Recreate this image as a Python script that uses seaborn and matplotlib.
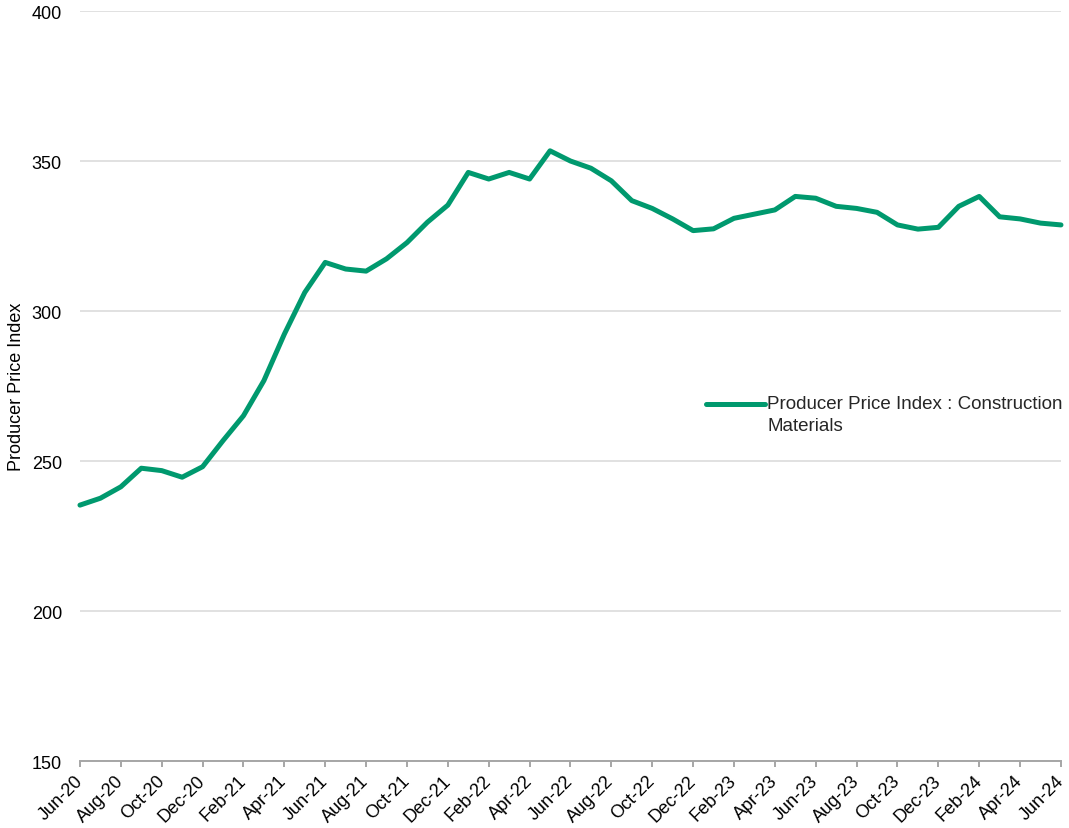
import numpy as np
import pandas as pd
import matplotlib
matplotlib.use("Agg")
import matplotlib.pyplot as plt
from matplotlib.legend_handler import HandlerLine2D
import seaborn as sns

# Monthly Producer Price Index: Construction Materials, Jun-2020 .. Jun-2024
months = [
    "Jun-20", "Jul-20", "Aug-20", "Sep-20", "Oct-20", "Nov-20", "Dec-20",
    "Jan-21", "Feb-21", "Mar-21", "Apr-21", "May-21", "Jun-21", "Jul-21",
    "Aug-21", "Sep-21", "Oct-21", "Nov-21", "Dec-21",
    "Jan-22", "Feb-22", "Mar-22", "Apr-22", "May-22", "Jun-22", "Jul-22",
    "Aug-22", "Sep-22", "Oct-22", "Nov-22", "Dec-22",
    "Jan-23", "Feb-23", "Mar-23", "Apr-23", "May-23", "Jun-23", "Jul-23",
    "Aug-23", "Sep-23", "Oct-23", "Nov-23", "Dec-23",
    "Jan-24", "Feb-24", "Mar-24", "Apr-24", "May-24", "Jun-24",
]
ppi = [
    235.3, 237.6, 241.4, 247.6, 246.8, 244.6, 248.1,
    256.8, 265.1, 276.8, 292.3, 306.2, 316.2, 314.0,
    313.3, 317.4, 322.8, 329.6, 335.3,
    346.2, 344.0, 346.2, 344.0, 353.4, 350.0, 347.6,
    343.4, 336.8, 334.2, 330.7, 326.8,
    327.4, 330.9, 332.3, 333.7, 338.2, 337.6, 334.9,
    334.2, 332.9, 328.7, 327.3, 327.9,
    334.9, 338.2, 331.4, 330.7, 329.3, 328.7,
]
series_name = "Producer Price Index : Construction\nMaterials"
y_ticks = [150, 200, 250, 300, 350, 400]

df = pd.DataFrame({"month": months, "ppi": ppi})
df["pos"] = np.arange(len(df))

sns.set_theme(style="white")
plt.rcParams["font.family"] = ["Liberation Sans", "DejaVu Sans"]

line_color = "#00996E"
grid_color = "#D9D9D9"
axis_color = "#A6A6A6"
tick_fs = 13
legend_fs = 13.5


class FirstLineHandler(HandlerLine2D):
    """Legend line drawn level with the first line of a two-line label."""

    def create_artists(self, legend, orig_handle, xdescent, ydescent,
                       width, height, fontsize, trans):
        artists = super().create_artists(legend, orig_handle, xdescent,
                                         ydescent, width, height, fontsize,
                                         trans)
        for a in artists:
            a.set_ydata(np.asarray(a.get_ydata()) + 0.56 * fontsize)
        return artists


fig = plt.figure(figsize=(10.69, 8.29), dpi=100)
ax = fig.add_axes([0.0748, 0.0808, 0.9177, 0.9047])

sns.lineplot(data=df, x="pos", y="ppi", ax=ax, color=line_color,
             linewidth=3.6, label=series_name, clip_on=False)

ax.set_xlim(0, len(df) - 1)
ax.set_ylim(150, 400)
ax.set_yticks(y_ticks)
ax.set_yticklabels([str(v) for v in y_ticks], fontsize=tick_fs, color="#000000")

tick_pos = df["pos"].iloc[::2].tolist()
ax.set_xticks(tick_pos)
ax.set_xticklabels(df["month"].iloc[::2].tolist(), rotation=45, ha="right",
                   va="center", rotation_mode="anchor", fontsize=tick_fs,
                   color="#000000")

ax.grid(axis="y", color=grid_color, linewidth=1.1)
ax.grid(axis="x", visible=False)
ax.set_axisbelow(True)

for side in ("left", "top", "right"):
    ax.spines[side].set_visible(False)
ax.spines["bottom"].set_color(axis_color)
ax.spines["bottom"].set_linewidth(1.4)

ax.tick_params(axis="x", bottom=True, direction="out", length=4,
               width=1.4, color=axis_color, pad=8)
ax.tick_params(axis="y", left=False, length=0, pad=13)

ax.set_xlabel("")
ax.set_ylabel("Producer Price Index", fontsize=tick_fs, color="#000000")
ax.yaxis.set_label_coords(-0.056, 0.5)

handles, labels = ax.get_legend_handles_labels()
leg = ax.legend(handles, labels, loc="center left",
                bbox_to_anchor=(0.631, 0.462), frameon=False,
                fontsize=legend_fs, handlelength=3.1, handletextpad=0.15,
                borderaxespad=0,
                handler_map={type(handles[0]): FirstLineHandler()})
for t in leg.get_texts():
    t.set_linespacing(1.4)

fig.savefig("out.png", dpi=100)
